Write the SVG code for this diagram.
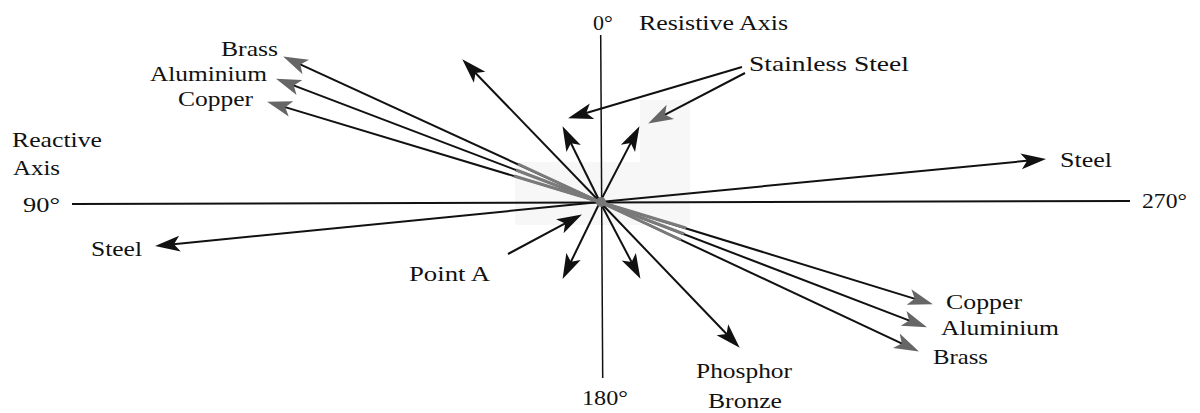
<svg xmlns="http://www.w3.org/2000/svg" width="1200" height="413" viewBox="0 0 1200 413">
<style>
text{font-family:"Liberation Serif","Times New Roman",serif;font-size:22px;fill:#111}
.ax{stroke:#111;fill:none}
.ar{stroke:#111;stroke-width:2;fill:none;marker-end:url(#hb)}
.ag{stroke:#111;stroke-width:2;fill:none;marker-end:url(#hg)}
.gr{stroke:#7a7a7a;stroke-width:3;fill:none}
.bg{fill:#f7f7f7}
</style>
<defs>
<marker id="hb" markerUnits="userSpaceOnUse" viewBox="0 0 26 18" markerWidth="26" markerHeight="18" refX="14" refY="9" orient="auto">
<path d="M25,9 L0,1 L6,9 L0,17 Z" fill="#111"/>
</marker>
<marker id="hg" markerUnits="userSpaceOnUse" viewBox="0 0 26 18" markerWidth="26" markerHeight="18" refX="14" refY="9" orient="auto">
<path d="M25,9 L0,1 L6,9 L0,17 Z" fill="#666"/>
</marker>
</defs>
<g id="artifacts">
<rect class="bg" x="515" y="162" width="175" height="63"/>
<rect class="bg" x="640" y="100" width="50" height="62"/>
</g>
<g id="axes">
<line class="ax" x1="72" y1="204" x2="1130" y2="201" stroke-width="2"/>
<line class="ax" x1="600.7" y1="35" x2="602.7" y2="378" stroke-width="1.5"/>
</g>
<g id="connectors">
<line class="ag" x1="600" y1="202" x2="293.1" y2="61.2"/>
<line class="ag" x1="600" y1="202" x2="286.3" y2="82.6"/>
<line class="ag" x1="600" y1="202" x2="277.6" y2="104.9"/>
<line class="ar" x1="600" y1="202" x2="469.9" y2="67.2"/>
<line class="ar" x1="600" y1="202" x2="567.4" y2="136"/>
<line class="ar" x1="600" y1="202" x2="634.4" y2="135.9"/>
<line class="ar" x1="600" y1="202" x2="1035.1" y2="160"/>
<line class="ar" x1="600" y1="202" x2="166" y2="245"/>
<line class="ar" x1="600" y1="202" x2="567.4" y2="269"/>
<line class="ar" x1="600" y1="202" x2="635.3" y2="269.1"/>
<line class="ar" x1="600" y1="202" x2="732.1" y2="339.8"/>
<line class="ag" x1="600" y1="202" x2="922.4" y2="301.1"/>
<line class="ag" x1="600" y1="202" x2="916.7" y2="323.4"/>
<line class="ag" x1="600" y1="202" x2="909" y2="346.8"/>
<line class="ar" x1="508" y1="254" x2="572.2" y2="219.7"/>
<line class="ar" x1="742" y1="67" x2="578.6" y2="115.2"/>
<line class="ag" x1="745" y1="73" x2="657.9" y2="118.4"/>
<line class="gr" x1="600" y1="202" x2="518" y2="164"/>
<line class="gr" x1="600" y1="202" x2="516" y2="170"/>
<line class="gr" x1="600" y1="202" x2="514" y2="176"/>
<line class="gr" x1="600" y1="202" x2="686" y2="228"/>
<line class="gr" x1="600" y1="202" x2="684" y2="234"/>
<line class="gr" x1="600" y1="202" x2="681" y2="240"/>
<circle cx="601" cy="202" r="5" fill="#777"/>
</g>
<g id="label-axis-0">
<text x="593" y="30">0°</text>
<text x="639" y="30" textLength="149" lengthAdjust="spacingAndGlyphs">Resistive Axis</text>
</g>
<g id="label-stainless"><text x="749" y="71" textLength="160" lengthAdjust="spacingAndGlyphs">Stainless Steel</text></g>
<g id="label-brass-tl"><text x="221" y="56" textLength="57" lengthAdjust="spacingAndGlyphs">Brass</text></g>
<g id="label-aluminium-tl"><text x="150" y="81" textLength="117" lengthAdjust="spacingAndGlyphs">Aluminium</text></g>
<g id="label-copper-tl"><text x="178" y="106" textLength="75" lengthAdjust="spacingAndGlyphs">Copper</text></g>
<g id="label-reactive">
<text x="12" y="147" textLength="90" lengthAdjust="spacingAndGlyphs">Reactive</text>
<text x="13" y="175" textLength="47" lengthAdjust="spacingAndGlyphs">Axis</text>
</g>
<g id="label-90"><text x="23" y="212" textLength="37" lengthAdjust="spacingAndGlyphs">90°</text></g>
<g id="label-steel-l"><text x="91" y="256" textLength="51" lengthAdjust="spacingAndGlyphs">Steel</text></g>
<g id="label-steel-r"><text x="1060" y="167" textLength="52" lengthAdjust="spacingAndGlyphs">Steel</text></g>
<g id="label-270"><text x="1142" y="208" textLength="45" lengthAdjust="spacingAndGlyphs">270°</text></g>
<g id="label-pointa"><text x="409" y="281" textLength="81" lengthAdjust="spacingAndGlyphs">Point A</text></g>
<g id="label-180"><text x="582" y="405" textLength="46" lengthAdjust="spacingAndGlyphs">180°</text></g>
<g id="label-phosphor">
<text x="696" y="378" textLength="96" lengthAdjust="spacingAndGlyphs">Phosphor</text>
<text x="708" y="408" textLength="74" lengthAdjust="spacingAndGlyphs">Bronze</text>
</g>
<g id="label-copper-r"><text x="946" y="309" textLength="76" lengthAdjust="spacingAndGlyphs">Copper</text></g>
<g id="label-aluminium-r"><text x="941" y="335" textLength="118" lengthAdjust="spacingAndGlyphs">Aluminium</text></g>
<g id="label-brass-r"><text x="933" y="364" textLength="55" lengthAdjust="spacingAndGlyphs">Brass</text></g>
</svg>
